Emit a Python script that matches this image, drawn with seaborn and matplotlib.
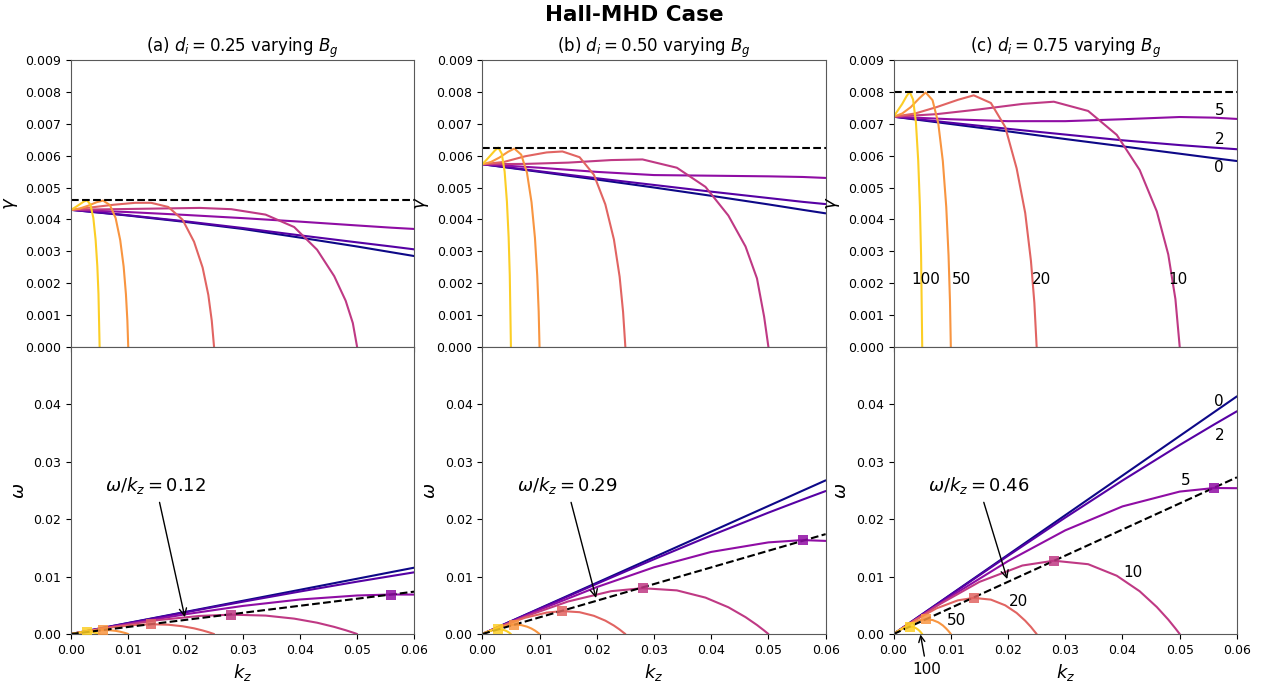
import numpy as np
import matplotlib
matplotlib.use("Agg")
import matplotlib.pyplot as plt
import seaborn as sns

# ---------------- data ----------------
BG = [0, 2, 5, 10, 20, 50, 100]
DI_LABELS = ["0.25", "0.50", "0.75"]
PANEL_TAGS = ["(a)", "(b)", "(c)"]

KZ_WIDE = [0.0, 0.01, 0.02, 0.03, 0.04, 0.05, 0.056, 0.06]          # Bg = 0, 2, 5
KZ_BG10 = [0.0, 0.0075, 0.015, 0.0225, 0.028, 0.034, 0.039, 0.043, 0.046, 0.048, 0.04925, 0.05]
KZ_BG20 = [0.0, 0.00375, 0.0075, 0.01125, 0.014, 0.017, 0.0195, 0.0215, 0.023, 0.024, 0.0246, 0.025]
KZ_BG50 = [0.0, 0.0015, 0.003, 0.0045, 0.0056, 0.0068, 0.0078, 0.0086, 0.0092, 0.0096, 0.00985, 0.01]
KZ_BG100 = [0.0, 0.00075, 0.0015, 0.00225, 0.0028, 0.0034, 0.0039, 0.0043, 0.0046, 0.0048, 0.0049, 0.005]

# growth rate gamma, one list per Bg (order of BG)
GAMMA_A = [
    [0.00430, 0.00412, 0.00392, 0.00370, 0.00343, 0.00315, 0.00297, 0.00285],
    [0.00430, 0.00413, 0.00394, 0.00373, 0.00350, 0.00328, 0.00315, 0.00306],
    [0.00430, 0.00423, 0.00414, 0.00404, 0.00393, 0.00381, 0.00374, 0.00370],
    [0.00430, 0.00432, 0.00434, 0.00436, 0.00432, 0.00415, 0.00376, 0.00305, 0.00222, 0.00145, 0.00075, 0.0],
    [0.00430, 0.00438, 0.00446, 0.00452, 0.00452, 0.00439, 0.00399, 0.00330, 0.00249, 0.00163, 0.00082, 0.0],
    [0.00430, 0.00434, 0.00443, 0.00454, 0.00459, 0.00445, 0.00404, 0.00335, 0.00252, 0.00165, 0.00083, 0.0],
    [0.00430, 0.00438, 0.00447, 0.00456, 0.00460, 0.00446, 0.00405, 0.00336, 0.00253, 0.00166, 0.00083, 0.0],
]
GAMMA_B = [
    [0.00573, 0.00549, 0.00525, 0.00500, 0.00474, 0.00447, 0.00430, 0.00419],
    [0.00573, 0.00551, 0.00529, 0.00508, 0.00487, 0.00467, 0.00455, 0.00448],
    [0.00573, 0.00562, 0.00549, 0.00539, 0.00537, 0.00535, 0.00533, 0.00530],
    [0.00573, 0.00574, 0.00578, 0.00586, 0.00588, 0.00562, 0.00502, 0.00412, 0.00315, 0.00215, 0.00095, 0.0],
    [0.00573, 0.00580, 0.00598, 0.00610, 0.00613, 0.00595, 0.00540, 0.00447, 0.00337, 0.00220, 0.00110, 0.0],
    [0.00573, 0.00580, 0.00594, 0.00612, 0.00622, 0.00603, 0.00547, 0.00454, 0.00342, 0.00224, 0.00112, 0.0],
    [0.00573, 0.00587, 0.00602, 0.00617, 0.00625, 0.00606, 0.00550, 0.00456, 0.00344, 0.00225, 0.00113, 0.0],
]
GAMMA_C = [
    [0.00722, 0.00699, 0.00676, 0.00652, 0.00629, 0.00606, 0.00592, 0.00583],
    [0.00722, 0.00703, 0.00684, 0.00666, 0.00648, 0.00633, 0.00625, 0.00620],
    [0.00722, 0.00714, 0.00708, 0.00708, 0.00714, 0.00721, 0.00719, 0.00715],
    [0.00722, 0.00730, 0.00745, 0.00762, 0.00769, 0.00740, 0.00665, 0.00555, 0.00425, 0.00290, 0.00150, 0.0],
    [0.00722, 0.00732, 0.00752, 0.00775, 0.00789, 0.00765, 0.00690, 0.00560, 0.00420, 0.00270, 0.00138, 0.0],
    [0.00722, 0.00732, 0.00752, 0.00780, 0.00798, 0.00774, 0.00702, 0.00583, 0.00439, 0.00287, 0.00144, 0.0],
    [0.00722, 0.00742, 0.00762, 0.00786, 0.00800, 0.00776, 0.00704, 0.00584, 0.00440, 0.00288, 0.00144, 0.0],
]

# real frequency omega, one list per Bg (order of BG)
OMEGA_A = [
    [0.0, 0.00193, 0.00385, 0.00578, 0.00770, 0.00963, 0.01079, 0.01156],
    [0.0, 0.00190, 0.00378, 0.00562, 0.00740, 0.00912, 0.01010, 0.01075],
    [0.0, 0.00177, 0.00344, 0.00489, 0.00601, 0.00671, 0.00688, 0.00687],
    [0.0, 0.00129, 0.00240, 0.00315, 0.00337, 0.00321, 0.00268, 0.00197, 0.00124, 0.00066, 0.00026, 0.0],
    [0.0, 0.00065, 0.00121, 0.00158, 0.00170, 0.00162, 0.00135, 0.00099, 0.00062, 0.00033, 0.00013, 0.0],
    [0.0, 0.00026, 0.00049, 0.00064, 0.00069, 0.00066, 0.00055, 0.00040, 0.00025, 0.00014, 0.00005, 0.0],
    [0.0, 0.00013, 0.00025, 0.00032, 0.000345, 0.00033, 0.00027, 0.00020, 0.00013, 0.00007, 0.00003, 0.0],
]
OMEGA_B = [
    [0.0, 0.00446, 0.00892, 0.01338, 0.01784, 0.02230, 0.02498, 0.02676],
    [0.0, 0.00440, 0.00875, 0.01302, 0.01717, 0.02114, 0.02342, 0.02490],
    [0.0, 0.00421, 0.00817, 0.01162, 0.01430, 0.01596, 0.01636, 0.01622],
    [0.0, 0.00305, 0.00567, 0.00746, 0.00798, 0.00760, 0.00634, 0.00466, 0.00294, 0.00157, 0.00061, 0.0],
    [0.0, 0.00152, 0.00284, 0.00373, 0.00399, 0.00380, 0.00317, 0.00233, 0.00147, 0.00078, 0.00030, 0.0],
    [0.0, 0.00062, 0.00116, 0.00152, 0.00163, 0.00155, 0.00129, 0.00095, 0.00060, 0.00032, 0.00012, 0.0],
    [0.0, 0.00031, 0.00058, 0.00076, 0.00082, 0.00078, 0.00065, 0.00048, 0.00030, 0.00016, 0.00006, 0.0],
]
OMEGA_C = [
    [0.0, 0.00690, 0.01380, 0.02070, 0.02760, 0.03450, 0.03864, 0.04140],
    [0.0, 0.00685, 0.01363, 0.02028, 0.02674, 0.03293, 0.03649, 0.03880],
    [0.0, 0.00655, 0.01270, 0.01806, 0.02223, 0.02481, 0.02543, 0.02540],
    [0.0, 0.00488, 0.00908, 0.01193, 0.01277, 0.01216, 0.01015, 0.00745, 0.00470, 0.00251, 0.00097, 0.0],
    [0.0, 0.00240, 0.00447, 0.00587, 0.00629, 0.00599, 0.00500, 0.00367, 0.00231, 0.00123, 0.00048, 0.0],
    [0.0, 0.00098, 0.00182, 0.00240, 0.00256, 0.00244, 0.00204, 0.00150, 0.00094, 0.00050, 0.00020, 0.0],
    [0.0, 0.00049, 0.00091, 0.00120, 0.00129, 0.00123, 0.00102, 0.00075, 0.00047, 0.00025, 0.00010, 0.0],
]

# peak-growth markers (Bg = 5, 10, 20, 50, 100)
MARK_BG = [5, 10, 20, 50, 100]
MARK_KZ = [0.056, 0.028, 0.014, 0.0056, 0.0028]
MARK_OMEGA_A = [0.00688, 0.00337, 0.00170, 0.00069, 0.00035]
MARK_OMEGA_B = [0.01636, 0.00798, 0.00399, 0.00163, 0.00082]
MARK_OMEGA_C = [0.02543, 0.01277, 0.00629, 0.00256, 0.00129]

GAMMA_MAX = [0.00460, 0.00625, 0.00800]
PHASE_SPEED = [0.123, 0.290, 0.455]
PHASE_LABEL = ["0.12", "0.29", "0.46"]

# ---------------- plotting ----------------
sns.set_style("ticks")
plt.rcParams["font.family"] = ["DejaVu Sans"]
plt.rcParams["axes.edgecolor"] = "0.35"
plt.rcParams["text.color"] = "black"
plt.rcParams["axes.labelcolor"] = "black"
plt.rcParams["axes.titlecolor"] = "black"
plt.rcParams["xtick.color"] = "black"
plt.rcParams["ytick.color"] = "black"
plt.rcParams["xtick.labelsize"] = 9
plt.rcParams["ytick.labelsize"] = 9

KZ_SETS = [KZ_WIDE, KZ_WIDE, KZ_WIDE, KZ_BG10, KZ_BG20, KZ_BG50, KZ_BG100]
cmap = matplotlib.colormaps["plasma"]
COLORS = [cmap(v) for v in np.linspace(0.0, 0.9, len(BG))]
COLOR_OF = dict(zip(BG, COLORS))

fig = plt.figure(figsize=(12.68, 6.81), dpi=100)
gs = fig.add_gridspec(2, 3, left=0.056, right=0.9755, top=0.912, bottom=0.069,
                      hspace=0.0, wspace=0.198)

gammas = [GAMMA_A, GAMMA_B, GAMMA_C]
omegas = [OMEGA_A, OMEGA_B, OMEGA_C]
marks = [MARK_OMEGA_A, MARK_OMEGA_B, MARK_OMEGA_C]

for j in range(3):
    axt = fig.add_subplot(gs[0, j])
    axb = fig.add_subplot(gs[1, j], sharex=axt)
    for i, bg in enumerate(BG):
        sns.lineplot(x=KZ_SETS[i], y=gammas[j][i], ax=axt, color=COLORS[i],
                     lw=1.5, sort=False, estimator=None, legend=False)
        sns.lineplot(x=KZ_SETS[i], y=omegas[j][i], ax=axb, color=COLORS[i],
                     lw=1.5, sort=False, estimator=None, legend=False)
    axt.axhline(GAMMA_MAX[j], color="black", ls="--", lw=1.5)
    axb.axline((0, 0), slope=PHASE_SPEED[j], color="black", ls="--", lw=1.5)
    for k, bg in enumerate(MARK_BG):
        axb.scatter([MARK_KZ[k]], [marks[j][k]], marker="s", s=42,
                    color=COLOR_OF[bg], alpha=0.85, zorder=5, linewidths=0)

    axt.set_xlim(0, 0.06)
    axt.set_ylim(0, 0.009)
    axt.set_yticks(np.arange(0, 0.0091, 0.001))
    axt.yaxis.set_major_formatter(matplotlib.ticker.FormatStrFormatter("%.3f"))
    axt.tick_params(labelbottom=False)
    axt.set_ylabel(r"$\gamma$", fontsize=13)
    axt.set_title(f"{PANEL_TAGS[j]} $d_i = {DI_LABELS[j]}$ varying $B_g$", fontsize=12)

    axb.set_ylim(0, 0.05)
    axb.set_yticks([0, 0.01, 0.02, 0.03, 0.04])
    axb.yaxis.set_major_formatter(matplotlib.ticker.FormatStrFormatter("%.2f"))
    axb.set_xticks([0, 0.01, 0.02, 0.03, 0.04, 0.05, 0.06])
    axb.xaxis.set_major_formatter(matplotlib.ticker.FormatStrFormatter("%.2f"))
    axb.set_xlabel(r"$k_z$", fontsize=13)
    axb.set_ylabel(r"$\omega$", fontsize=13)

    tip = (0.02, PHASE_SPEED[j] * 0.02)
    axb.annotate(rf"$\omega/k_z = {PHASE_LABEL[j]}$", xy=tip, xytext=(0.006, 0.0258),
                 fontsize=13, va="center", ha="left",
                 arrowprops=dict(arrowstyle="->", color="black", lw=1.0))

    if j == 2:
        for txt, x, y in [("5", 0.0569, 0.00743), ("2", 0.0569, 0.00652), ("0", 0.0569, 0.00564),
                          ("100", 0.0056, 0.00213), ("50", 0.0119, 0.00213),
                          ("20", 0.0258, 0.00213), ("10", 0.0497, 0.00213)]:
            axt.text(x, y, txt, fontsize=11, ha="center", va="center")
        for txt, x, y in [("0", 0.0569, 0.0405), ("2", 0.0569, 0.0346), ("5", 0.0510, 0.0268),
                          ("10", 0.0419, 0.0108), ("20", 0.0218, 0.0057), ("50", 0.0110, 0.0023)]:
            axb.text(x, y, txt, fontsize=11, ha="center", va="center")
        axb.annotate("100", xy=(0.0046, 0.0004), xytext=(0.0058, -0.0062),
                     fontsize=11, ha="center", va="center", annotation_clip=False,
                     arrowprops=dict(arrowstyle="->", color="black", lw=1.0))

fig.suptitle("Hall-MHD Case", fontsize=15.5, fontweight="bold", y=0.993)
fig.savefig("out.png", dpi=100)
